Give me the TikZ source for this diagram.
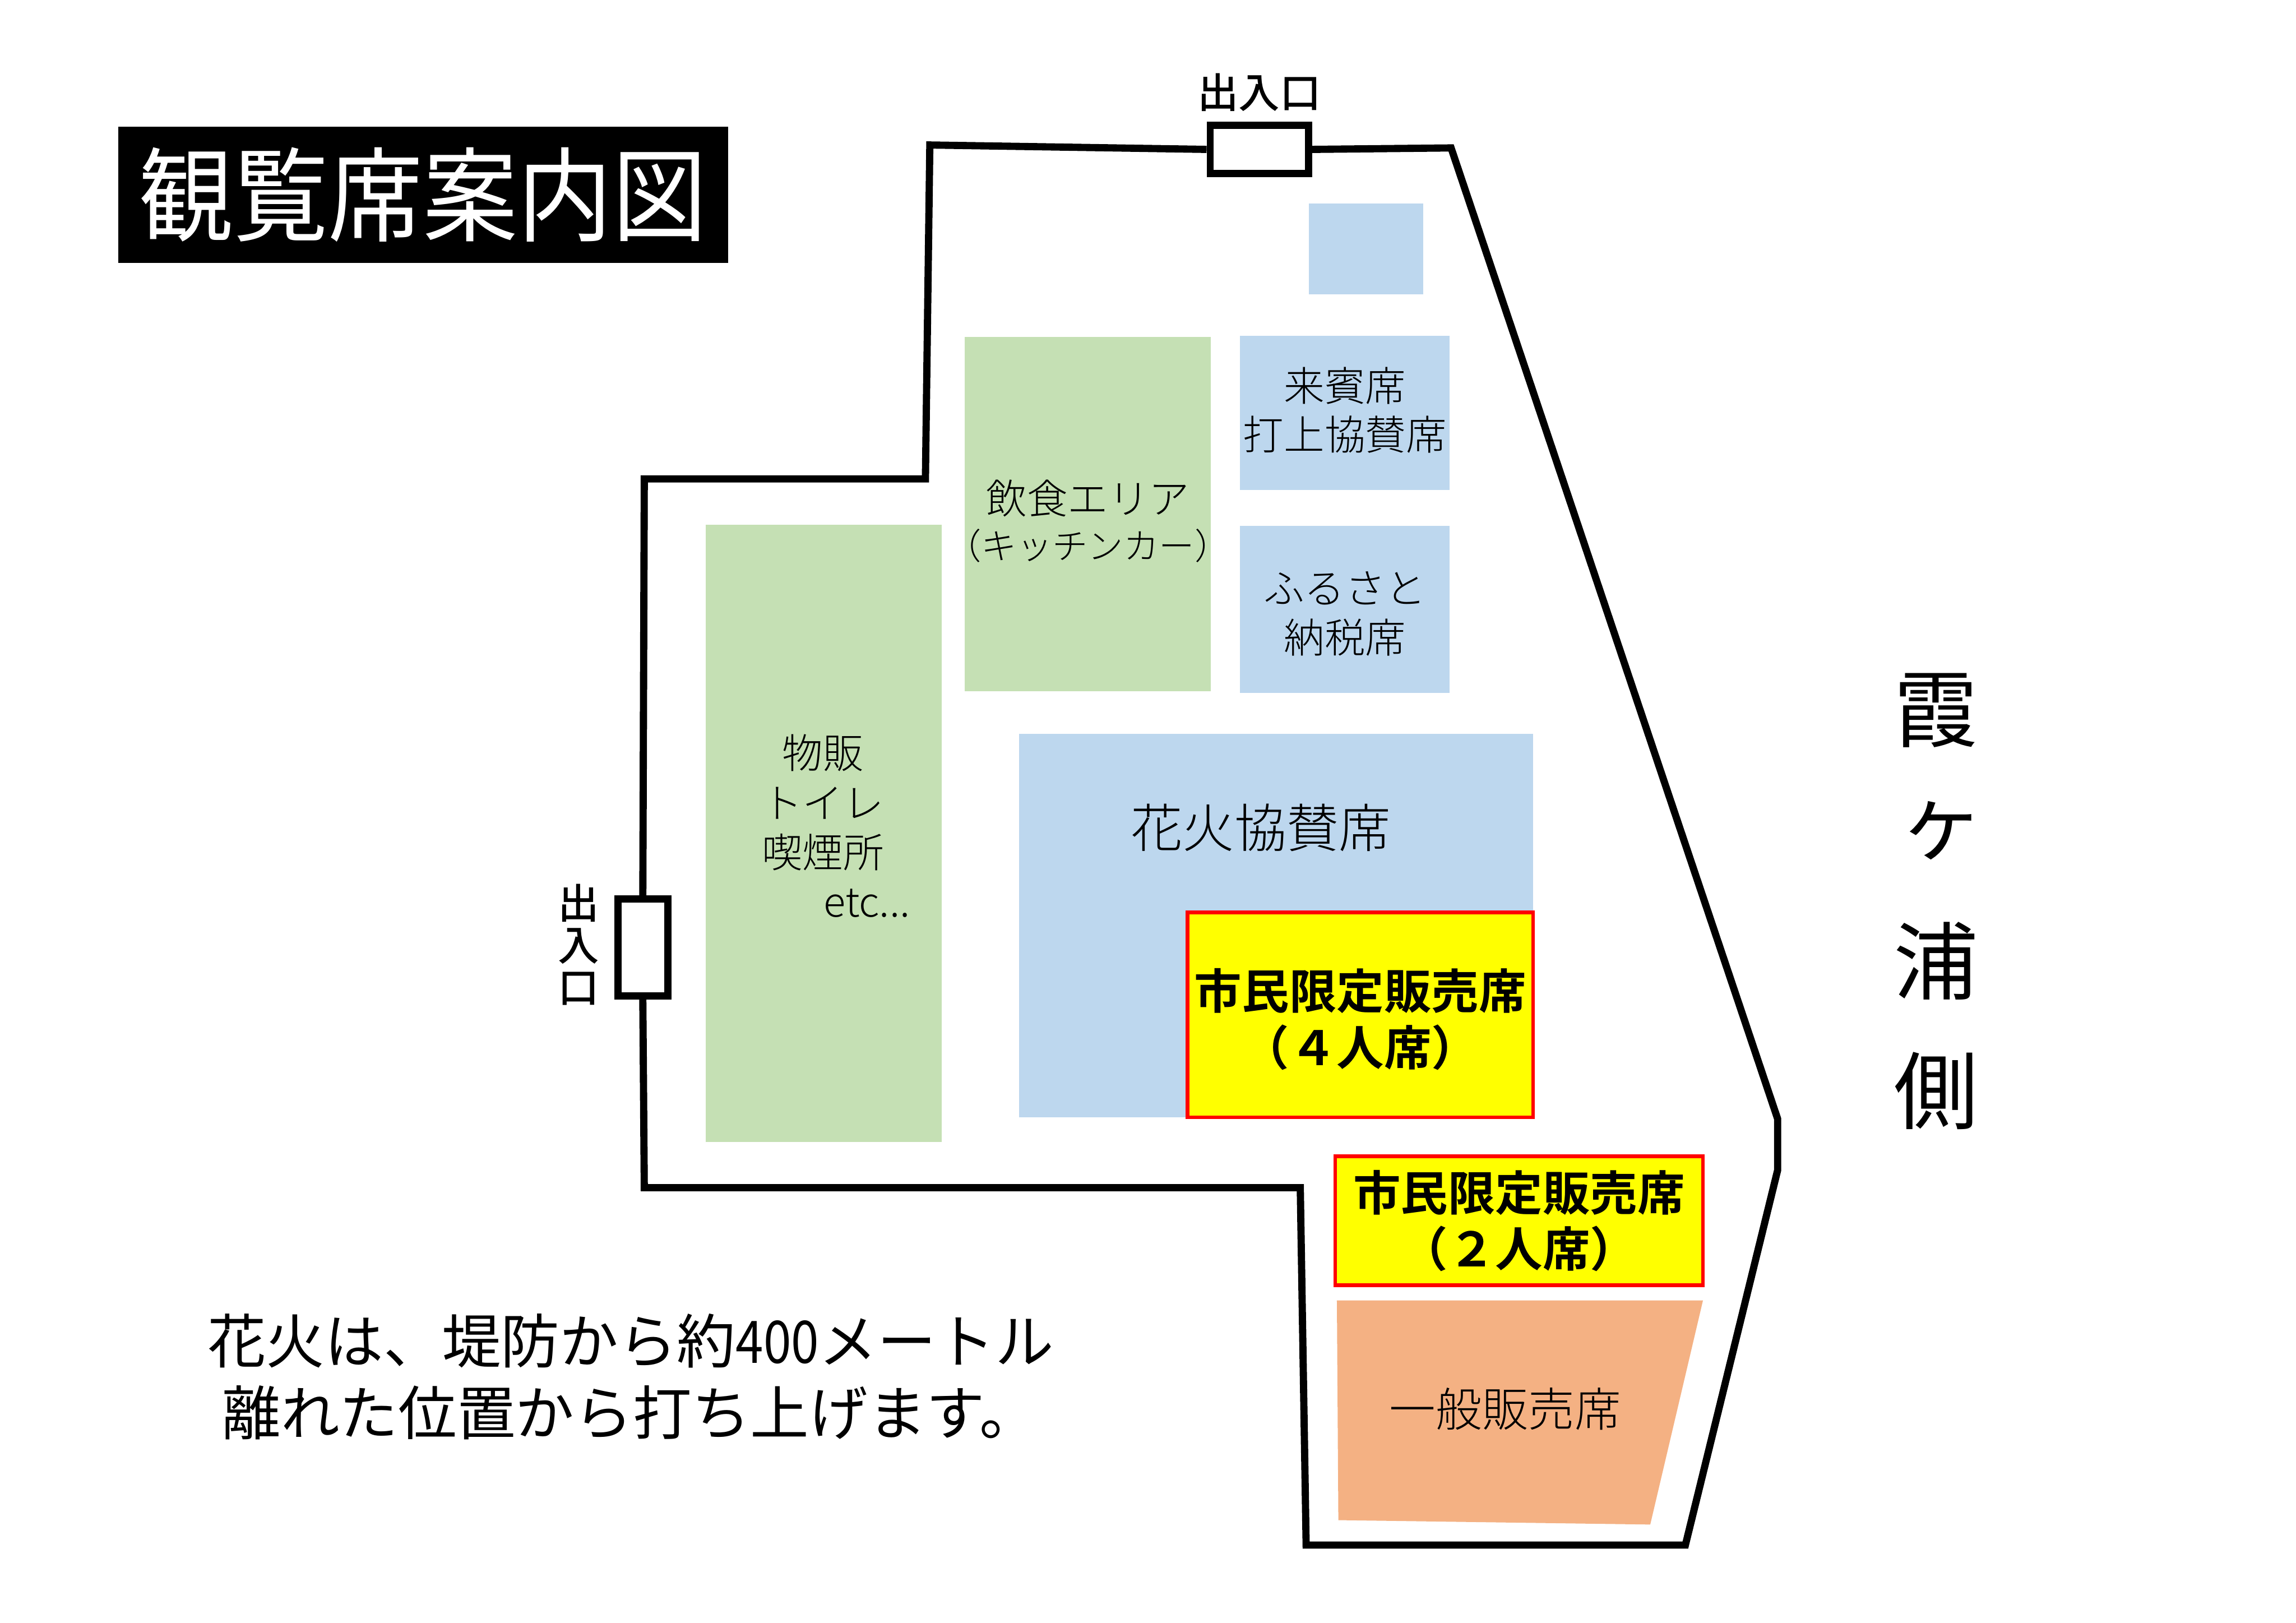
\documentclass[tikz,border=0pt]{standalone}
\usepackage{fontspec}
\setmainfont{Noto Sans CJK JP Light}[BoldFont=Noto Sans CJK JP Bold]
\newfontfamily\midfont{Noto Sans CJK JP Medium}
\newfontfamily\regfont{Noto Sans CJK JP}
\tikzset{
  seat/.style={inner sep=0pt, align=center},
  fence/.style={line width=1.4pt, black},
  gate/.style={draw=black, line width=1.4pt, fill=white, inner sep=0pt},
  limited/.style={seat, draw=limitR, line width=0.7pt, fill=limitY},
  limitedtext/.style={seat, font=\fontsize{9.2}{10.9}\selectfont\bfseries},
  sidename/.style={font=\fontsize{16.4}{18}\selectfont\regfont},
}
\definecolor{seatB}{HTML}{BDD7EE}
\definecolor{seatG}{HTML}{C5E0B4}
\definecolor{seatO}{HTML}{F4B183}
\definecolor{limitR}{HTML}{FF0000}
\definecolor{limitY}{HTML}{FFFF00}
\begin{document}
\begin{tikzpicture}[x=0.01cm,y=-0.01cm]
        \useasboundingbox (0,0) rectangle (1568,1108);
        % title
        \node (title) [fill=black, text=white, inner sep=0pt, minimum width=4.16cm, minimum height=0.93cm, font=\fontsize{18.4}{20}\selectfont] at (289,133) {\scalebox{1}[1.08]{\regfont 観覧席案内図}};
        % gates
        \node (gateT) [gate, minimum width=0.67cm, minimum height=0.33cm] at (860,102) {};
        \node (gateL) [gate, minimum width=0.34cm, minimum height=0.66cm] at (439,647) {};
        \node (gateTlabel) [font=\fontsize{8}{9}\selectfont\midfont] at (860,63) {出入口};
        \node (gateLlabel) [align=center, inner sep=0pt, font=\fontsize{8}{8.2}\selectfont\midfont] at (395,645) {出\\入\\口};
        % fence corners
        \coordinate (c1) at (991,101);
        \coordinate (c2) at (1214,764);
        \coordinate (c3) at (1214,799);
        \coordinate (c4) at (1151,1055);
        \coordinate (c5) at (892,1055);
        \coordinate (c6) at (888,811);
        \coordinate (c7) at (440,811);
        \coordinate (c8) at (440,327);
        \coordinate (c9) at (632,327);
        \coordinate (c10) at (635,99);
        \draw [fence, line join=miter] (gateT.east) -- (c1) -- (c2) -- (c3) -- (c4) -- (c5) -- (c6) -- (c7) -- (gateL.south);
        \draw [fence, line join=miter] (gateL.north) -- (c8) -- (c9) -- (c10) -- (gateT.west);
        % seats
        \node (small) [seat, fill=seatB, minimum width=0.78cm, minimum height=0.62cm] at (933,170) {};
        \node (guest) [seat, fill=seatB, minimum width=1.43cm, minimum height=1.05cm] at (918.5,282) {};
        \node (guestlabel) [seat, font=\fontsize{7.9}{9.5}\selectfont] at (918.5,280) {来賓席\\打上協賛席};
        \node (furusato) [seat, fill=seatB, minimum width=1.43cm, minimum height=1.14cm] at (918.5,416) {};
        \node (furusatolabel) [seat, font=\fontsize{7.9}{9.6}\selectfont] at (918.5,419) {ふるさと\\納税席};
        \node (food) [seat, fill=seatG, minimum width=1.68cm, minimum height=2.42cm] at (743,351) {};
        \node (foodlabel) [seat, font=\fontsize{7.9}{8.8}\selectfont] at (743,356) {飲食エリア\\{\fontsize{6.9}{8.8}\selectfont （キッチンカー）}};
        \node (shop) [seat, fill=seatG, minimum width=1.61cm, minimum height=4.21cm] at (562.5,569) {};
        \node (shoplabel) [seat, font=\fontsize{7.9}{9.6}\selectfont] at (562,564) {物販\\トイレ\\喫煙所\\\hspace*{0.6cm}etc...};
        \node (hanabi) [seat, fill=seatB, minimum width=3.51cm, minimum height=2.62cm] at (871.5,632) {};
        \node (hanabilabel) [seat, font=\fontsize{10.1}{12}\selectfont] at (861,565) {花火協賛席};
        \node (four) [limited, minimum width=2.36cm, minimum height=1.4cm] at (929,693) {};
        \node (fourlabel) [limitedtext] at (929,696) {市民限定販売席\\（４人席）};
        \node (two) [limited, minimum width=2.51cm, minimum height=0.88cm] at (1037.5,833.5) {};
        \node (twolabel) [limitedtext] at (1037.5,833.5) {市民限定販売席\\（２人席）};
        \coordinate (o1) at (913,888);
        \coordinate (o2) at (1163,888);
        \coordinate (o3) at (1127,1041);
        \coordinate (o4) at (914,1038);
        \fill [seatO] (o1) -- (o2) -- (o3) -- (o4) -- cycle;
        \node (general) [seat, font=\fontsize{9}{10}\selectfont] at (1028,962) {一般販売席};
        % side name
        \node (sidea) [sidename] at (1322,485) {霞};
        \node (sideb) [sidename] at (1326,567) {ヶ};
        \node (sidec) [sidename] at (1322,656) {浦};
        \node (sided) [sidename] at (1322,745) {側};
        % note
        \node (note) [inner sep=0pt, align=left, font=\fontsize{11.4}{13.9}\selectfont\regfont, anchor=west] at (141,940) {花火は、堤防から約\scalebox{0.85}[1]{400}メートル\\\hspace*{0.1cm}離れた位置から打ち上げます。};
\end{tikzpicture}
\end{document}
